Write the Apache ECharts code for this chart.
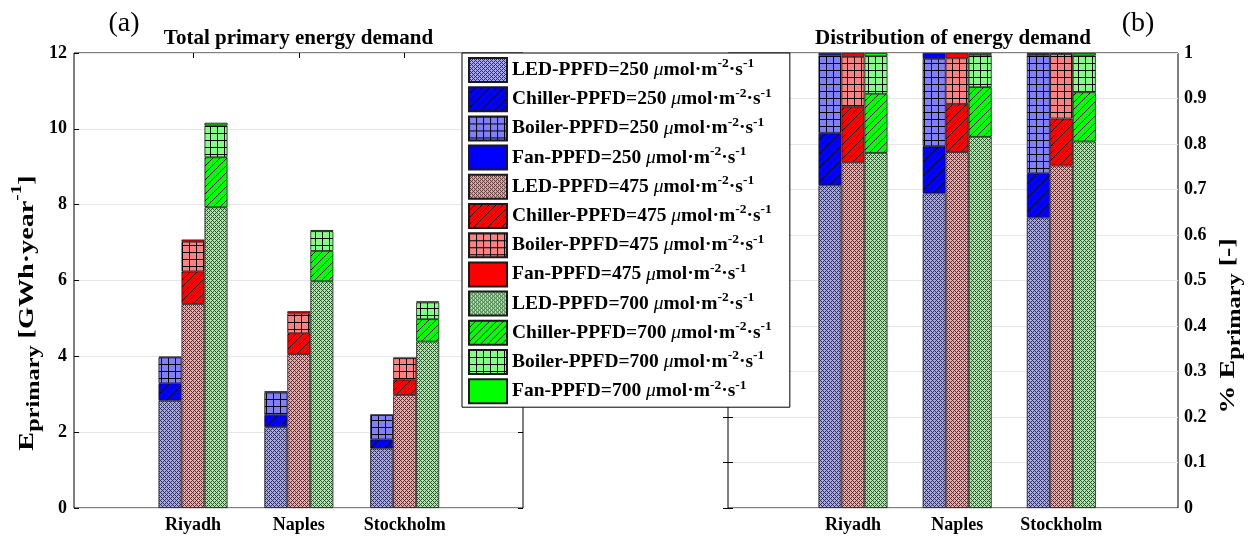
<!DOCTYPE html>
<html><head><meta charset="utf-8">
<script src="https://cdn.jsdelivr.net/npm/echarts@6/dist/echarts.min.js"></script>
<style>html,body{margin:0;padding:0;background:#fff}#c{width:1255px;height:540px}</style>
</head><body><div id="c"></div>
<script>
// ---------- data (GWh/year), one value per city ----------
const cities = ['Riyadh', 'Naples', 'Stockholm'];
const ppfdLevels = ['250', '475', '700'];
const components = ['LED', 'Chiller', 'Boiler', 'Fan'];

const led250     = [2.83, 2.13, 1.57];
const chiller250 = [0.46, 0.32, 0.24];
const boiler250  = [0.68, 0.59, 0.64];
const fan250     = [0.02, 0.04, 0.01];

const led475     = [5.38, 4.06, 2.98];
const chiller475 = [0.86, 0.55, 0.41];
const boiler475  = [0.78, 0.52, 0.56];
const fan475     = [0.06, 0.06, 0.01];

const led700     = [7.93, 5.98, 4.39];
const chiller700 = [1.32, 0.80, 0.59];
const boiler700  = [0.84, 0.52, 0.44];
const fan700     = [0.07, 0.03, 0.03];

const leftAxis  = {min: 0, max: 12, interval: 2};
const rightAxis = {min: 0, max: 1, interval: 0.1};
const titleLeft  = 'Total primary energy demand';
const titleRight = 'Distribution of energy demand';

const values = {
  '250': [led250, chiller250, boiler250, fan250],
  '475': [led475, chiller475, boiler475, fan475],
  '700': [led700, chiller700, boiler700, fan700]
};

// ---------- styles ----------
const FONT = '"Liberation Serif", "DejaVu Serif", serif';
const palette = {
  '250': {led: '#a8a8f0', dark: '#303050', chiller: '#0000ff', boiler: '#8080ff', fan: '#0000ff'},
  '475': {led: '#f0a8a8', dark: '#503030', chiller: '#ff0000', boiler: '#ff8080', fan: '#ff0000'},
  '700': {led: '#a8e8a8', dark: '#305030', chiller: '#00ff00', boiler: '#80ff80', fan: '#00ff00'}
};
function tile(w, h, draw) {
  const c = document.createElement('canvas'); c.width = w; c.height = h;
  draw(c.getContext('2d')); return c;
}
function ledPattern(light, dark) {
  return {image: tile(4, 4, g => {
    g.fillStyle = light; g.fillRect(0, 0, 4, 4); g.fillStyle = dark;
    for (let x = 0; x < 4; x++) for (let y = 0; y < 4; y++)
      if ((x + y) % 4 === 0 || (x - y + 4) % 4 === 0) g.fillRect(x, y, 1, 1);
  }), repeat: 'repeat'};
}
function hatchPattern(base) {
  return {image: tile(7, 7, g => {
    g.fillStyle = base; g.fillRect(0, 0, 7, 7); g.fillStyle = '#000';
    for (let i = 0; i < 7; i++) g.fillRect(i, 6 - i, 1, 1);
  }), repeat: 'repeat'};
}
function gridPattern(base) {
  return {image: tile(7, 7, g => {
    g.fillStyle = base; g.fillRect(0, 0, 7, 7); g.fillStyle = '#000';
    g.fillRect(0, 0, 7, 1); g.fillRect(0, 0, 1, 7);
  }), repeat: 'repeat'};
}
function fillFor(p, comp) {
  const c = palette[p];
  if (comp === 'LED') return ledPattern(c.led, c.dark);
  if (comp === 'Chiller') return hatchPattern(c.chiller);
  if (comp === 'Boiler') return gridPattern(c.boiler);
  return c.fan;
}

// ---------- series ----------
const series = [];
const legendNames = [];
ppfdLevels.forEach(p => {
  const totals = cities.map((_, i) => values[p].reduce((s, arr) => s + arr[i], 0));
  components.forEach((comp, k) => {
    const name = comp + '-PPFD=' + p;
    legendNames.push(name);
    const fill = fillFor(p, comp);
    const itemStyle = {color: fill, borderColor: '#1a1a1a', borderWidth: 0.8};
    series.push({type: 'bar', name, stack: 'L' + p, xAxisIndex: 1, yAxisIndex: 2,
      barWidth: 23, barGap: '0%', data: values[p][k], itemStyle, silent: true});
    series.push({type: 'bar', name, stack: 'R' + p, xAxisIndex: 4, yAxisIndex: 5,
      barWidth: 23, barGap: '0%', data: values[p][k].map((v, i) => v / totals[i]), itemStyle, silent: true});
  });
});

// ---------- layout ----------
const TOP = 53, H = 455;
const L = {left: 74, width: 449};
const LB = {left: 140.1, width: 317.5};
const R = {left: 728, width: 450};
const RB = {left: 800.9, width: 312.5};

const tickLabel = {fontFamily: FONT, fontWeight: 'bold', fontSize: 18, color: '#000'};
const inTick = {show: true, inside: true, length: 5, lineStyle: {color: '#000', width: 1}};
const split = {show: true, lineStyle: {color: '#e6e6e6', width: 1}};

const axisRich = {
  m: {fontFamily: FONT, fontWeight: 'bold', fontSize: 22, lineHeight: 34, verticalAlign: 'middle'},
  sub: {fontFamily: FONT, fontWeight: 'bold', fontSize: 19, lineHeight: 22, verticalAlign: 'bottom'},
  sup: {fontFamily: FONT, fontWeight: 'bold', fontSize: 15, lineHeight: 16, verticalAlign: 'top'}
};

const chart = echarts.init(document.getElementById('c'));
chart.setOption({
  animation: false,
  backgroundColor: '#fff',
  grid: [
    {left: L.left, top: TOP, width: L.width, height: H, show: true, borderColor: '#000', borderWidth: 1, backgroundColor: 'rgba(0,0,0,0)'},
    {left: LB.left, top: TOP, width: LB.width, height: H},
    {left: R.left, top: TOP, width: R.width, height: H, show: true, borderColor: '#000', borderWidth: 1, backgroundColor: 'rgba(0,0,0,0)'},
    {left: RB.left, top: TOP, width: RB.width, height: H}
  ],
  xAxis: [
    {gridIndex: 0, type: 'value', show: false, min: 0, max: 1},
    {gridIndex: 1, type: 'category', data: cities, position: 'bottom', axisLine: {show: false},
      axisTick: Object.assign({alignWithLabel: true, interval: 0}, inTick), axisLabel: Object.assign({margin: 8, interval: 0}, tickLabel)},
    {gridIndex: 1, type: 'category', data: cities, position: 'top', axisLine: {show: false},
      axisTick: Object.assign({alignWithLabel: true, interval: 0}, inTick), axisLabel: {show: false}},
    {gridIndex: 2, type: 'value', show: false, min: 0, max: 1},
    {gridIndex: 3, type: 'category', data: cities, position: 'bottom', axisLine: {show: false},
      axisTick: Object.assign({alignWithLabel: true, interval: 0}, inTick), axisLabel: Object.assign({margin: 8, interval: 0}, tickLabel)},
    {gridIndex: 3, type: 'category', data: cities, position: 'top', axisLine: {show: false},
      axisTick: Object.assign({alignWithLabel: true, interval: 0}, inTick), axisLabel: {show: false}}
  ],
  yAxis: [
    Object.assign({gridIndex: 0, type: 'value', position: 'left', axisLine: {show: false},
      axisTick: inTick, axisLabel: Object.assign({margin: 7}, tickLabel), splitLine: split}, leftAxis),
    Object.assign({gridIndex: 0, type: 'value', position: 'right', axisLine: {show: false},
      axisTick: inTick, axisLabel: {show: false}, splitLine: {show: false}}, leftAxis),
    Object.assign({gridIndex: 1, type: 'value', show: false}, leftAxis),
    Object.assign({gridIndex: 2, type: 'value', position: 'right', axisLine: {show: false},
      axisTick: inTick, axisLabel: Object.assign({margin: 6, formatter: v => String(Math.round(v * 10) / 10)}, tickLabel),
      splitLine: split}, rightAxis),
    Object.assign({gridIndex: 2, type: 'value', position: 'left', axisLine: {show: false},
      axisTick: inTick, axisLabel: {show: false}, splitLine: {show: false}}, rightAxis),
    Object.assign({gridIndex: 3, type: 'value', show: false}, rightAxis)
  ],
  legend: {
    data: legendNames, orient: 'vertical', left: 462, top: TOP,
    padding: [4, 18, 3, 6], itemGap: 3.2, itemWidth: 38, itemHeight: 24, icon: 'rect',
    itemTextGap: 6, selectedMode: false,
    backgroundColor: '#fff', borderColor: '#000', borderWidth: 1, borderRadius: 0,
    formatter: n => '{b|' + n + ' }{mu|\u03bc}{b|mol\u00b7m}{s|-2}{b|\u00b7s}{s|-1}',
    textStyle: {
      fontFamily: FONT, fontWeight: 'bold', fontSize: 19.5, color: '#000',
      rich: {
        b: {fontFamily: FONT, fontWeight: 'bold', fontSize: 19.5, lineHeight: 26, verticalAlign: 'middle', color: '#000'},
        mu: {fontFamily: FONT, fontStyle: 'italic', fontWeight: 'normal', fontSize: 19.5, lineHeight: 26, verticalAlign: 'middle', color: '#000'},
        s: {fontFamily: FONT, fontWeight: 'bold', fontSize: 13.5, lineHeight: 12, verticalAlign: 'top', color: '#000'}
      }
    }
  },
  graphic: [
    {type: 'text', x: 124, y: 24, z: 10, style: {text: '(a)', font: '28px ' + FONT, fill: '#000', textAlign: 'center', textVerticalAlign: 'middle'}},
    {type: 'text', x: 1138, y: 24, z: 10, style: {text: '(b)', font: '28px ' + FONT, fill: '#000', textAlign: 'center', textVerticalAlign: 'middle'}},
    {type: 'text', x: L.left + L.width / 2, y: 39, z: 10, style: {text: titleLeft, font: 'bold 21px ' + FONT, fill: '#000', textAlign: 'center', textVerticalAlign: 'middle'}},
    {type: 'text', x: R.left + R.width / 2, y: 39, z: 10, style: {text: titleRight, font: 'bold 21px ' + FONT, fill: '#000', textAlign: 'center', textVerticalAlign: 'middle'}},
    {type: 'text', x: 27, y: 313, rotation: Math.PI / 2, scaleX: 1.28, z: 10, style: {
      text: '{m|E}{sub|primary}{m| [GWh\u00b7year}{sup|-1}{m|]}', textAlign: 'center', textVerticalAlign: 'middle', fill: '#000',
      rich: axisRich}},
    {type: 'text', x: 1228, y: 326, rotation: Math.PI / 2, scaleX: 1.28, z: 10, style: {
      text: '{m|% E}{sub|primary}{m| [-]}', textAlign: 'center', textVerticalAlign: 'middle', fill: '#000',
      rich: axisRich}}
  ],
  series
});
</script>
</body></html>
